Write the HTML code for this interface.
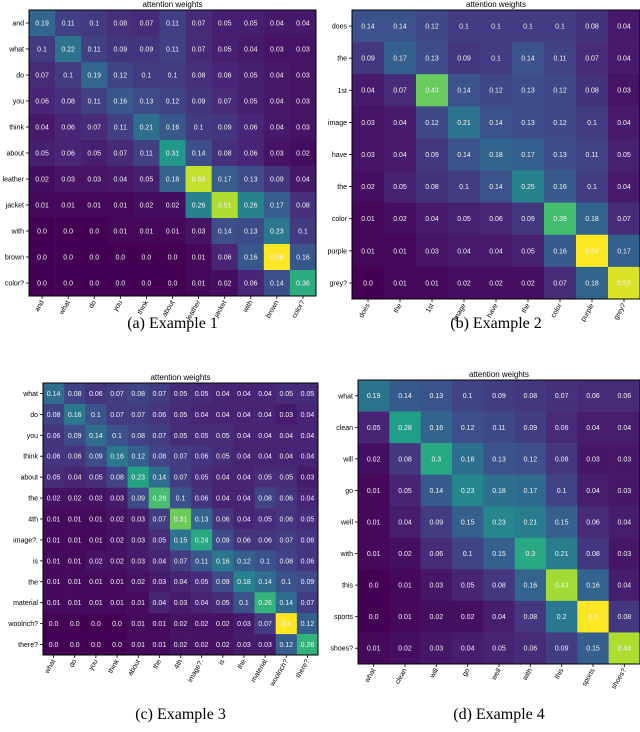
<!DOCTYPE html>
<html><head><meta charset="utf-8"><style>
body{margin:0;background:#fff;width:640px;height:732px;overflow:hidden}
svg{display:block}
</style></head><body>
<svg id="fig" width="640" height="732" xmlns="http://www.w3.org/2000/svg"></svg>
<script>
const labelsA = ["and","what","do","you","think","about","leather","jacket","with","brown","color?"];
const valuesA = [
[0.19,0.11,0.1,0.08,0.07,0.11,0.07,0.05,0.05,0.04,0.04],
[0.1,0.22,0.11,0.09,0.09,0.11,0.07,0.05,0.04,0.03,0.03],
[0.07,0.1,0.19,0.12,0.1,0.1,0.08,0.06,0.05,0.04,0.03],
[0.06,0.08,0.11,0.16,0.13,0.12,0.09,0.07,0.05,0.04,0.03],
[0.04,0.06,0.07,0.11,0.21,0.16,0.1,0.09,0.06,0.04,0.03],
[0.05,0.06,0.05,0.07,0.11,0.31,0.14,0.08,0.06,0.03,0.02],
[0.02,0.03,0.03,0.04,0.05,0.18,0.53,0.17,0.13,0.09,0.04],
[0.01,0.01,0.01,0.01,0.02,0.02,0.26,0.51,0.26,0.17,0.08],
[0.0,0.0,0.0,0.01,0.01,0.01,0.03,0.14,0.13,0.23,0.1],
[0.0,0.0,0.0,0.0,0.0,0.0,0.01,0.06,0.16,0.58,0.16],
[0.0,0.0,0.0,0.0,0.0,0.0,0.01,0.02,0.06,0.14,0.36]];
const labelsB = ["does","the","1st","image","have","the","color","purple","grey?"];
const valuesB = [
[0.14,0.14,0.12,0.1,0.1,0.1,0.1,0.08,0.04],
[0.09,0.17,0.13,0.09,0.1,0.14,0.11,0.07,0.04],
[0.04,0.07,0.43,0.14,0.12,0.13,0.12,0.08,0.03],
[0.03,0.04,0.12,0.21,0.14,0.13,0.12,0.1,0.04],
[0.03,0.04,0.09,0.14,0.18,0.17,0.13,0.11,0.05],
[0.02,0.05,0.08,0.1,0.14,0.25,0.16,0.1,0.04],
[0.01,0.02,0.04,0.05,0.06,0.09,0.39,0.18,0.07],
[0.01,0.01,0.03,0.04,0.04,0.05,0.16,0.56,0.17],
[0.0,0.01,0.01,0.02,0.02,0.02,0.07,0.18,0.53]];
const labelsC = ["what","do","you","think","about","the","4th","image?.","is","the","material","woolrich?","there?"];
const valuesC = [
[0.14,0.08,0.06,0.07,0.08,0.07,0.05,0.05,0.04,0.04,0.04,0.05,0.05],
[0.08,0.16,0.1,0.07,0.07,0.06,0.05,0.04,0.04,0.04,0.04,0.03,0.04],
[0.06,0.09,0.14,0.1,0.08,0.07,0.05,0.05,0.05,0.04,0.04,0.04,0.04],
[0.06,0.06,0.09,0.16,0.12,0.08,0.07,0.06,0.05,0.04,0.04,0.04,0.04],
[0.05,0.04,0.05,0.08,0.23,0.14,0.07,0.05,0.04,0.04,0.05,0.05,0.03],
[0.02,0.02,0.02,0.03,0.09,0.28,0.1,0.06,0.04,0.04,0.08,0.06,0.04],
[0.01,0.01,0.01,0.02,0.03,0.07,0.31,0.13,0.06,0.04,0.05,0.06,0.05],
[0.01,0.01,0.01,0.02,0.03,0.05,0.15,0.24,0.09,0.06,0.06,0.07,0.06],
[0.01,0.01,0.02,0.02,0.03,0.04,0.07,0.11,0.16,0.12,0.1,0.08,0.06],
[0.01,0.01,0.01,0.01,0.02,0.03,0.04,0.05,0.09,0.18,0.14,0.1,0.09],
[0.01,0.01,0.01,0.01,0.01,0.04,0.03,0.04,0.05,0.1,0.26,0.14,0.07],
[0.0,0.0,0.0,0.0,0.01,0.01,0.02,0.02,0.02,0.03,0.07,0.4,0.12],
[0.0,0.0,0.0,0.0,0.01,0.01,0.02,0.02,0.02,0.03,0.03,0.12,0.26]];
const labelsD = ["what","clean","will","go","well","with","this","sports","shoes?"];
const valuesD = [
[0.19,0.14,0.13,0.1,0.09,0.08,0.07,0.06,0.06],
[0.05,0.28,0.16,0.12,0.11,0.09,0.06,0.04,0.04],
[0.02,0.08,0.3,0.18,0.13,0.12,0.08,0.03,0.03],
[0.01,0.05,0.14,0.23,0.18,0.17,0.1,0.04,0.03],
[0.01,0.04,0.09,0.15,0.23,0.21,0.15,0.06,0.04],
[0.01,0.02,0.06,0.1,0.15,0.3,0.21,0.08,0.03],
[0.0,0.01,0.03,0.05,0.08,0.16,0.43,0.16,0.04],
[0.0,0.01,0.02,0.02,0.04,0.08,0.2,0.5,0.08],
[0.01,0.02,0.03,0.04,0.05,0.06,0.09,0.15,0.44]];

const VIR=[[68,1,84],[72,40,120],[62,74,137],[49,104,142],[38,130,142],[31,158,137],[53,183,121],[109,205,89],[180,222,44],[253,231,37]];
function viridis(t){t=Math.max(0,Math.min(1,t));const p=t*(VIR.length-1),i=Math.min(Math.floor(p),VIR.length-2),f=p-i;
const c=VIR[i].map((v,k)=>Math.round(v+(VIR[i+1][k]-v)*f));return `rgb(${c[0]},${c[1]},${c[2]})`;}
const NS="http://www.w3.org/2000/svg";
const svg=document.getElementById('fig');
function mk(tag,attrs,parent){const e=document.createElementNS(NS,tag);for(const k in attrs)e.setAttribute(k,attrs[k]);(parent||svg).appendChild(e);return e;}
function fmt(v){let s=String(v);if(Number.isInteger(v))s=v.toFixed(1);return s;}

function heatmap(id,labels,vals,x0,y0,x1,y1,fs,caption,capY){
  const g=mk('g',{});
  
  
  const n=labels.length,cw=(x1-x0)/n,ch=(y1-y0)/n;
  let mn=Infinity,mx=-Infinity;vals.forEach(r=>r.forEach(v=>{mn=Math.min(mn,v);mx=Math.max(mx,v);}));
  const xs=j=>x0+j*cw, ys=i=>y0+i*ch;
  vals.forEach((r,i)=>r.forEach((v,j)=>{
    const c=mk('rect',{x:xs(j),y:ys(i),width:cw+0.3,height:ch+0.3,fill:viridis((v-mn)/(mx-mn))},g);
    
    
    const t=mk('text',{x:xs(j)+cw/2,y:ys(i)+ch/2+fs*0.35,'text-anchor':'middle','font-size':fs,fill:'#f4f4f4','font-family':'Liberation Sans, sans-serif'},g);
    t.textContent=fmt(v);
    
    
  }));
  const fr=mk('rect',{x:x0,y:y0,width:x1-x0,height:y1-y0,fill:'none',stroke:'#000','stroke-width':1},g);
  
  
  const tt=mk('text',{x:(x0+x1)/2,y:y0-3,'text-anchor':'middle','font-size':8,fill:'#000','font-family':'Liberation Sans, sans-serif'},g);
  tt.textContent='attention weights';
  
  
  labels.forEach((l,i)=>{
    const cy=ys(i)+ch/2;
    mk('line',{x1:x0-3,x2:x0,y1:cy,y2:cy,stroke:'#000','stroke-width':0.8},g);
    const yl=mk('text',{x:x0-5,y:cy+2.5,'text-anchor':'end','font-size':7,fill:'#000','font-family':'Liberation Sans, sans-serif'},g);
    yl.textContent=l;
    
    
    const cx=xs(i)+cw/2;
    mk('line',{x1:cx,x2:cx,y1:y1,y2:y1+3,stroke:'#000','stroke-width':0.8},g);
    const xl=mk('text',{x:cx+2,y:y1+6,'text-anchor':'end','font-size':7,fill:'#000','font-family':'Liberation Sans, sans-serif',transform:`rotate(-60 ${cx+2} ${y1+6})`},g);
    xl.textContent=l;
    
    
  });
  const cp=mk('text',{x:(x0+x1)/2,y:capY,'text-anchor':'middle','font-size':16,fill:'#000','font-family':'Liberation Serif, serif'},g);
  cp.textContent=caption;
  
  
}
heatmap('a',labelsA,valuesA,29,10,316,296,7,'(a) Example 1',328);
heatmap('b',labelsB,valuesB,352,10,640,299,7,'(b) Example 2',328);
heatmap('c',labelsC,valuesC,43,383,318,655,7,'(c) Example 3',719);
heatmap('d',labelsD,valuesD,358,380,640,664,7,'(d) Example 4',719);
</script>
</body></html>
